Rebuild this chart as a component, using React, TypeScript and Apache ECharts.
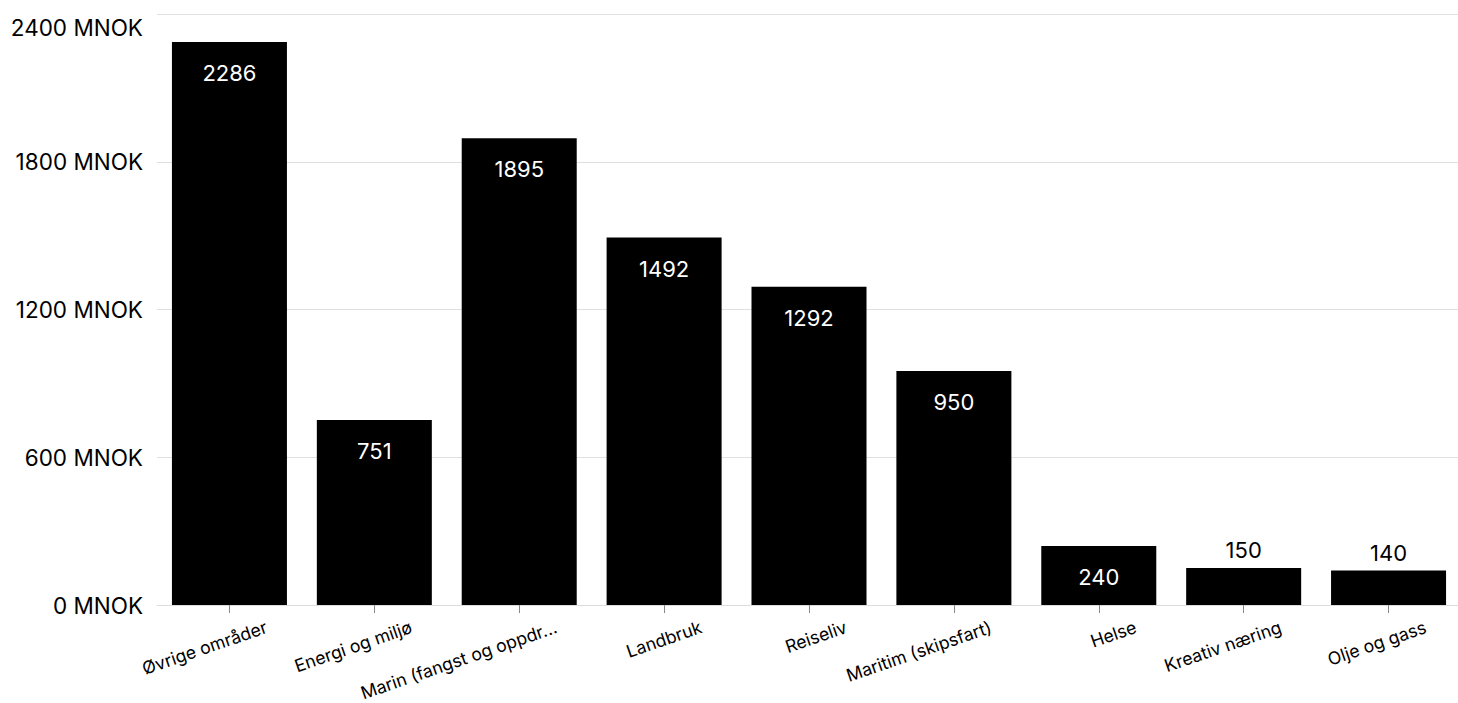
import React, { useEffect, useRef } from "react";
import * as echarts from "echarts";

const categories = [
  "Øvrige områder",
  "Energi og miljø",
  "Marin (fangst og oppdrett)",
  "Landbruk",
  "Reiseliv",
  "Maritim (skipsfart)",
  "Helse",
  "Kreativ næring",
  "Olje og gass",
];
const values = [2286, 751, 1895, 1492, 1292, 950, 240, 150, 140];
const yTicks = { min: 0, max: 2400, interval: 600 };
const unit = "MNOK";

export default function App() {
  const ref = useRef<HTMLDivElement>(null);
  useEffect(() => {
    document.body.style.margin = "0";
    document.body.style.overflow = "hidden";
    const chart = echarts.init(ref.current!, null, { renderer: "svg" });
    const font = "Inter, 'Noto Sans', sans-serif";
    const data = values.map((v) => {
      const inside = v >= 200;
      return {
        value: v,
        label: inside
          ? { position: "insideTop", distance: 20, color: "#fff" }
          : { position: "top", distance: 7, color: "#000" },
      };
    });
    chart.setOption({
      animation: false,
      grid: { left: 157, right: 1, top: 14, bottom: 98, containLabel: false },
      xAxis: {
        type: "category",
        data: categories,
        axisLine: { show: true, lineStyle: { color: "#dcdcdc", width: 1 } },
        axisTick: { show: true, alignWithLabel: true, length: 8, lineStyle: { color: "#888" } },
        axisLabel: {
          rotate: 19,
          interval: 0,
          fontSize: 17.6,
          fontFamily: font,
          color: "#000",
          margin: 34,
          align: "right",
          verticalAlign: "middle",
          padding: [0, -39, 0, 0],
          width: 212,
          overflow: "truncate",
          ellipsis: "...",
        },
      },
      yAxis: {
        type: "value",
        min: yTicks.min,
        max: yTicks.max,
        interval: yTicks.interval,
        axisLine: { show: false },
        axisTick: { show: false },
        splitLine: { lineStyle: { color: "#e0e0e0", width: 1 } },
        axisLabel: {
          formatter: (v: number) =>
            v === yTicks.max ? `{top|${v} ${unit}}` : `${v} ${unit}`,
          fontSize: 22.5,
          fontFamily: font,
          color: "#000",
          margin: 14,
          rich: {
            top: {
              fontSize: 22.5,
              fontFamily: font,
              color: "#000",
              padding: [26, 0, 0, 0],
            },
          },
        },
      },
      series: [
        {
          type: "bar",
          data,
          barWidth: 115,
          itemStyle: { color: "#000" },
          label: {
            show: true,
            fontSize: 22,
            fontFamily: font,
          },
        },
      ],
    });
    return () => chart.dispose();
  }, []);
  return <div ref={ref} style={{ width: 1462, height: 703 }} />;
}
